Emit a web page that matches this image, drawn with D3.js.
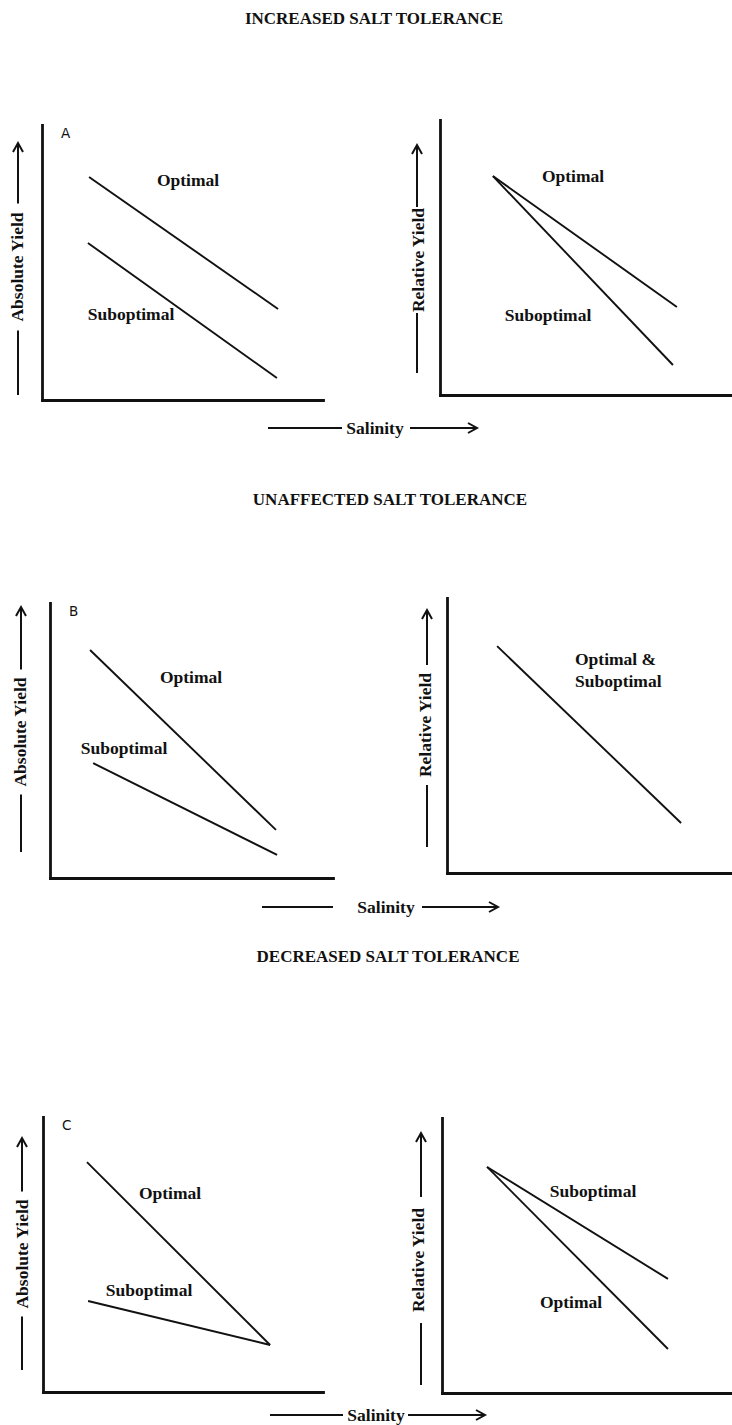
<!DOCTYPE html>
<html>
<head>
<meta charset="utf-8">
<script src="https://cdn.jsdelivr.net/npm/d3@7"></script>
<style>
  html, body { margin: 0; padding: 0; background: #fff; }
  svg { display: block; }
  text { font-family: "Liberation Serif", "Times New Roman", serif; font-weight: bold; fill: #111; }
</style>
</head>
<body>
<script>
// ---------------- data ----------------
const titles = ["INCREASED SALT TOLERANCE", "UNAFFECTED SALT TOLERANCE", "DECREASED SALT TOLERANCE"];
const panelLetters = ["A", "B", "C"];
const xAxisLabel = "Salinity";
const yAxisLabels = ["Absolute Yield", "Relative Yield"];
const curveNames = ["Optimal", "Suboptimal", "Optimal &", "Suboptimal"];

// [salinity, yield] end points in arbitrary units (0-10)
const absA_optimal    = [[1.68, 8.11], [8.43, 3.31]];
const absA_suboptimal = [[1.64, 5.71], [8.39, 0.80]];
const relA_optimal    = [[1.89, 7.96], [8.46, 3.20]];
const relA_suboptimal = [[1.89, 7.96], [8.32, 1.09]];

const absB_optimal    = [[1.43, 8.29], [8.07, 1.75]];
const absB_suboptimal = [[1.54, 4.18], [8.11, 0.84]];
const relB_both       = [[1.79, 8.25], [8.36, 1.82]];

const absC_optimal    = [[1.57, 8.36], [8.11, 1.71]];
const absC_suboptimal = [[1.61, 3.31], [8.11, 1.71]];
const relC_optimal    = [[1.61, 8.22], [8.07, 1.60]];
const relC_suboptimal = [[1.61, 8.22], [8.07, 4.15]];

// ---------------- layout ----------------
const W = 732, H = 1425;
const PW = 280, PH = 275;

const panels = [
  { ox: 42,  oy: 400,  right: 323, lines: [absA_optimal, absA_suboptimal], letter: 0, ylab: 0,
    yArrow: { x: 17, lx: 18, bottom: 395, top: 143, center: 267, gap: 9 },
    labels: [{ t: curveNames[0], x: 188, y: 186 }, { t: curveNames[1], x: 131, y: 320 }] },
  { ox: 440, oy: 395,  right: 732, lines: [relA_optimal, relA_suboptimal], letter: null, ylab: 1,
    yArrow: { x: 418, lx: 417, bottom: 373, top: 145, center: 260, gap: 1 },
    labels: [{ t: curveNames[0], x: 573, y: 182 }, { t: curveNames[1], x: 548, y: 321 }] },
  { ox: 50,  oy: 878,  right: 333, lines: [absB_optimal, absB_suboptimal], letter: 1, ylab: 0,
    yArrow: { x: 20, lx: 21, bottom: 852, top: 607, center: 732, gap: 8 },
    labels: [{ t: curveNames[0], x: 191, y: 683 }, { t: curveNames[1], x: 124, y: 754 }] },
  { ox: 447, oy: 873,  right: 732, lines: [relB_both], letter: null, ylab: 1,
    yArrow: { x: 425, lx: 427, bottom: 847, top: 610, center: 725, gap: 8 },
    labels: [{ t: curveNames[2], x: 575, y: 665, anchor: "start" }, { t: curveNames[3], x: 575, y: 687, anchor: "start" }] },
  { ox: 43,  oy: 1392, right: 323, lines: [absC_optimal, absC_suboptimal], letter: 2, ylab: 0,
    yArrow: { x: 22, lx: 22, bottom: 1370, top: 1138, center: 1254, gap: 8 },
    labels: [{ t: curveNames[0], x: 170, y: 1199 }, { t: curveNames[1], x: 149, y: 1296 }] },
  { ox: 442, oy: 1393, right: 732, lines: [relC_optimal, relC_suboptimal], letter: null, ylab: 1,
    yArrow: { x: 418, lx: 421, bottom: 1385, top: 1133, center: 1260, gap: 11 },
    labels: [{ t: curveNames[1], x: 593, y: 1197 }, { t: curveNames[0], x: 571, y: 1308 }] }
];

const titlePos = [{ x: 374, y: 24 }, { x: 390, y: 505 }, { x: 388, y: 962 }];
const xArrows = [
  { y: 428,  l0: 268, l1: 342, tx: 375, a0: 410, a1: 477 },
  { y: 907,  l0: 262, l1: 333, tx: 386, a0: 422, a1: 498 },
  { y: 1415, l0: 270, l1: 343, tx: 376, a0: 408, a1: 485 }
];

// ---------------- draw ----------------
const svg = d3.select("body").append("svg").attr("width", W).attr("height", H);
const ink = "#111";

// titles
svg.selectAll("text.title").data(titles).join("text")
  .attr("class", "title")
  .attr("x", (d, i) => titlePos[i].x)
  .attr("y", (d, i) => titlePos[i].y)
  .attr("text-anchor", "middle")
  .attr("font-size", 17)
  .text(d => d);

const lineGen = d3.line();

panels.forEach(p => {
  const x = d3.scaleLinear().domain([0, 10]).range([p.ox, p.ox + PW]);
  const y = d3.scaleLinear().domain([0, 10]).range([p.oy, p.oy - PH]);
  const g = svg.append("g");

  // axes (no ticks)
  const xAxisScale = x.copy().domain([0, x.invert(p.right)]).range([p.ox, p.right]);
  const gx = g.append("g").attr("transform", `translate(0,${p.oy})`)
    .call(d3.axisBottom(xAxisScale).tickValues([]).tickSizeOuter(0));
  const gy = g.append("g").attr("transform", `translate(${p.ox},0)`)
    .call(d3.axisLeft(y).tickValues([]).tickSizeOuter(0));
  [gx, gy].forEach(a => a.select(".domain")
    .attr("stroke", ink).attr("stroke-width", 2.8).attr("stroke-linecap", "square"));

  // curves
  g.selectAll("path.curve").data(p.lines).join("path")
    .attr("class", "curve")
    .attr("d", d => lineGen(d.map(v => [x(v[0]), y(v[1])])))
    .attr("fill", "none").attr("stroke", ink).attr("stroke-width", 1.9)
    .attr("stroke-linejoin", "miter");

  // curve labels
  g.selectAll("text.lab").data(p.labels).join("text")
    .attr("class", "lab")
    .attr("x", d => d.x).attr("y", d => d.y)
    .attr("text-anchor", d => d.anchor || "middle")
    .attr("font-size", 17.5)
    .text(d => d.t);

  // panel letter
  if (p.letter !== null) {
    g.append("text")
      .attr("x", p.ox + 19).attr("y", y(10) + 13)
      .style("font-family", "'DejaVu Sans', sans-serif")
      .style("font-weight", "normal")
      .attr("font-size", 13.5)
      .text(panelLetters[p.letter]);
  }

  // y axis label with arrow
  const ya = p.yArrow;
  const yt = g.append("text")
    .attr("transform", `translate(${ya.x},${ya.center}) rotate(-90)`)
    .attr("text-anchor", "middle")
    .attr("dominant-baseline", "central")
    .attr("font-size", 17.5)
    .text(yAxisLabels[p.ylab]);
  const half = yt.node().getComputedTextLength() / 2;
  g.append("line").attr("x1", ya.lx).attr("x2", ya.lx)
    .attr("y1", ya.bottom).attr("y2", ya.center + half + ya.gap)
    .attr("stroke", ink).attr("stroke-width", 2);
  g.append("line").attr("x1", ya.lx).attr("x2", ya.lx)
    .attr("y1", ya.center - half - ya.gap).attr("y2", ya.top)
    .attr("stroke", ink).attr("stroke-width", 2);
  g.append("path")
    .attr("d", `M${ya.lx - 5},${ya.top + 9} L${ya.lx},${ya.top} L${ya.lx + 5},${ya.top + 9}`)
    .attr("fill", "none").attr("stroke", ink).attr("stroke-width", 2);
});

// x axis labels with arrows
xArrows.forEach(a => {
  svg.append("line").attr("x1", a.l0).attr("x2", a.l1).attr("y1", a.y).attr("y2", a.y)
    .attr("stroke", ink).attr("stroke-width", 2);
  svg.append("text").attr("x", a.tx).attr("y", a.y + 6)
    .attr("text-anchor", "middle").attr("font-size", 17.5).text(xAxisLabel);
  svg.append("line").attr("x1", a.a0).attr("x2", a.a1).attr("y1", a.y).attr("y2", a.y)
    .attr("stroke", ink).attr("stroke-width", 2);
  svg.append("path")
    .attr("d", `M${a.a1 - 9},${a.y - 5} L${a.a1},${a.y} L${a.a1 - 9},${a.y + 5}`)
    .attr("fill", "none").attr("stroke", ink).attr("stroke-width", 2);
});
</script>
</body>
</html>
